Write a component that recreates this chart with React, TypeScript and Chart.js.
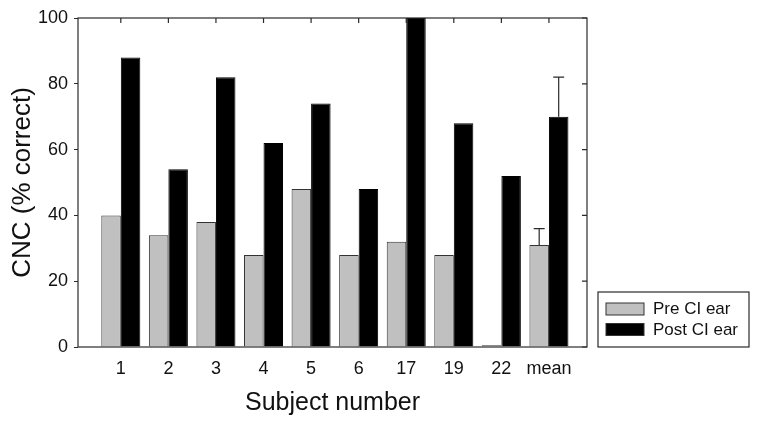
import React, { useEffect, useRef } from 'react';
import { Chart, registerables } from 'chart.js';

Chart.register(...registerables);

const categories = ['1', '2', '3', '4', '5', '6', '17', '19', '22', 'mean'];
const preCI = [40, 34, 38, 28, 48, 28, 32, 28, 0.5, 31];
const postCI = [88, 54, 82, 62, 74, 48, 100, 68, 52, 70];
const preErr = [0, 0, 0, 0, 0, 0, 0, 0, 0, 5];
const postErr = [0, 0, 0, 0, 0, 0, 0, 0, 0, 12];
const yTicks = [0, 20, 40, 60, 80, 100];
const seriesNames = ['Pre CI ear', 'Post CI ear'];
const xTitle = 'Subject number';
const yTitle = 'CNC (% correct)';

const FONT = "'Liberation Sans', Arial, Helvetica, sans-serif";
const AXIS_COLOR = '#2a2a2a';
const TEXT_COLOR = '#111';
const GRAY = '#c0c0c0';

const framePlugin = {
  id: 'frame',
  afterDraw(chart: any) {
    const { ctx, chartArea } = chart;
    const { left, right, top, bottom } = chartArea;
    const xs = chart.scales.x;
    const ys = chart.scales.y;
    ctx.save();
    ctx.strokeStyle = AXIS_COLOR;
    ctx.lineWidth = 1.2;
    ctx.strokeRect(left, top, right - left, bottom - top);
    ctx.beginPath();
    categories.forEach((_, i) => {
      const x = xs.getPixelForValue(i + 1);
      ctx.moveTo(x, top);
      ctx.lineTo(x, top + 5);
    });
    yTicks.forEach((v) => {
      const y = ys.getPixelForValue(v);
      ctx.moveTo(right, y);
      ctx.lineTo(right - 5, y);
    });
    ctx.stroke();
    ctx.restore();
  },
};

const errorPlugin = {
  id: 'errorBars',
  afterDatasetsDraw(chart: any) {
    const { ctx } = chart;
    const ys = chart.scales.y;
    const errs = [preErr, postErr];
    const vals = [preCI, postCI];
    ctx.save();
    ctx.strokeStyle = AXIS_COLOR;
    ctx.lineWidth = 1.2;
    errs.forEach((arr, di) => {
      const meta = chart.getDatasetMeta(di);
      meta.data.forEach((el: any, i: number) => {
        const e = arr[i];
        if (!e) return;
        const x = el.x;
        const y0 = ys.getPixelForValue(vals[di][i]);
        const y1 = ys.getPixelForValue(vals[di][i] + e);
        ctx.beginPath();
        ctx.moveTo(x, y0);
        ctx.lineTo(x, y1);
        ctx.moveTo(x - 5.5, y1);
        ctx.lineTo(x + 5.5, y1);
        ctx.stroke();
      });
    });
    ctx.restore();
  },
};

const legendPlugin = {
  id: 'customLegend',
  afterDraw(chart: any) {
    const { ctx, chartArea } = chart;
    const bx = chartArea.right + 11;
    const bw = 151;
    const bh = 55;
    const by = chartArea.bottom - bh;
    ctx.save();
    ctx.fillStyle = '#fff';
    ctx.fillRect(bx, by, bw, bh);
    ctx.strokeStyle = AXIS_COLOR;
    ctx.lineWidth = 1.2;
    ctx.strokeRect(bx, by, bw, bh);
    const fills = [GRAY, '#000'];
    chart.data.datasets.forEach((ds: any, i: number) => {
      const sy = by + 11 + i * 20.5;
      ctx.fillStyle = fills[i];
      ctx.fillRect(bx + 8, sy, 38, 12);
      ctx.strokeStyle = '#333';
      ctx.lineWidth = 1;
      ctx.strokeRect(bx + 8, sy, 38, 12);
      ctx.fillStyle = TEXT_COLOR;
      ctx.font = `17px ${FONT}`;
      ctx.textBaseline = 'middle';
      ctx.textAlign = 'left';
      ctx.fillText(ds.label, bx + 55, sy + 6.5);
    });
    ctx.restore();
  },
};

export default function App() {
  const ref = useRef<HTMLCanvasElement | null>(null);

  useEffect(() => {
    if (!ref.current) return;
    const chart = new Chart(ref.current, {
      type: 'bar',
      data: {
        datasets: [
          {
            label: seriesNames[0],
            data: preCI.map((v, i) => ({ x: i + 1, y: v })),
            backgroundColor: GRAY,
            borderColor: '#333',
            borderWidth: 1,
          },
          {
            label: seriesNames[1],
            data: postCI.map((v, i) => ({ x: i + 1, y: v })),
            backgroundColor: '#000',
            borderColor: '#000',
            borderWidth: 1,
          },
        ],
      },
      options: {
        animation: false,
        responsive: false,
        devicePixelRatio: 1,
        layout: { padding: { left: 0, top: 18, right: 175, bottom: 0 } },
        datasets: {
          bar: { barPercentage: 1, categoryPercentage: 0.82 },
        },
        plugins: {
          legend: { display: false },
          tooltip: { enabled: false },
        },
        scales: {
          x: {
            type: 'linear',
            offset: false,
            min: 0.1,
            max: 10.8,
            grid: { display: false, offset: false },
            border: { display: false },
            afterBuildTicks: (axis: any) => {
              axis.ticks = categories.map((_, i) => ({ value: i + 1 }));
            },
            afterFit: (axis: any) => {
              axis.height = 79;
            },
            ticks: {
              autoSkip: false,
              maxRotation: 0,
              padding: 3,
              color: TEXT_COLOR,
              font: { family: FONT, size: 18 },
              callback: (v: any) => categories[Math.round(v) - 1] ?? '',
            },
            title: {
              display: true,
              text: xTitle,
              color: TEXT_COLOR,
              font: { family: FONT, size: 25 },
              padding: { top: 0, bottom: 8 },
            },
          },
          y: {
            min: 0,
            max: 100,
            afterBuildTicks: (axis: any) => {
              axis.ticks = yTicks.map((v) => ({ value: v }));
            },
            afterFit: (axis: any) => {
              axis.width = 78;
            },
            grid: {
              drawOnChartArea: false,
              drawTicks: true,
              tickLength: 4,
              color: AXIS_COLOR,
            },
            border: { display: false },
            ticks: {
              padding: 6,
              color: TEXT_COLOR,
              font: { family: FONT, size: 18 },
            },
            title: {
              display: true,
              text: yTitle,
              color: TEXT_COLOR,
              font: { family: FONT, size: 26 },
              padding: { top: 7, bottom: 0 },
            },
          },
        },
      },
      plugins: [errorPlugin, framePlugin, legendPlugin],
    } as any);
    return () => chart.destroy();
  }, []);

  return (
    <div style={{ position: 'absolute', left: 0, top: 0, width: 762, height: 426, background: '#fff' }}>
      <canvas ref={ref} width={762} height={426} style={{ display: 'block' }} />
    </div>
  );
}
